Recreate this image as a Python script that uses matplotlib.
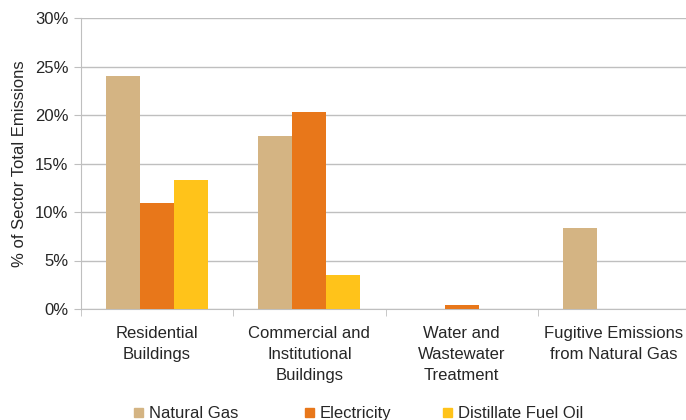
import numpy as np
import matplotlib.pyplot as plt
from matplotlib.patches import Rectangle

plt.rcParams['font.family'] = ['Liberation Sans', 'DejaVu Sans']

# data
CATEGORIES = ["Residential\nBuildings",
              "Commercial and\nInstitutional\nBuildings",
              "Water and\nWastewater\nTreatment",
              "Fugitive Emissions\nfrom Natural Gas"]
NATURAL_GAS = [24.0, 17.8, 0.0, 8.4]
ELECTRICITY = [10.9, 20.3, 0.45, 0.0]
FUEL_OIL = [13.3, 3.5, 0.0, 0.0]
SERIES = ["Natural Gas", "Electricity", "Distillate Fuel Oil"]

C_GAS = "#D4B483"
C_ELEC = "#E8771A"
C_OIL = "#FFC31A"
C_GRID = "#BFBFBF"
C_TEXT = "#262626"

W, H = 686, 420
fig = plt.figure(figsize=(W / 100, H / 100), dpi=100)
# plot area runs a little past the right edge of the picture
ax = fig.add_axes([81 / W, 1 - 309 / H, (690 - 81) / W, (309 - 18) / H])

x = np.arange(len(CATEGORIES))
w = 0.223
ax.bar(x - w, NATURAL_GAS, w, color=C_GAS, zorder=3)
ax.bar(x, ELECTRICITY, w, color=C_ELEC, zorder=3)
ax.bar(x + w, FUEL_OIL, w, color=C_OIL, zorder=3)

ax.set_xlim(-0.5, 3.5)
ax.set_ylim(0, 30)
ax.set_yticks(np.arange(0, 31, 5))
ax.set_yticklabels([f"{v}%" for v in range(0, 31, 5)], fontsize=12, color=C_TEXT)
ax.yaxis.grid(True, color=C_GRID, lw=1, zorder=0)

ax.set_xticks(x)
ax.set_xticklabels(CATEGORIES, fontsize=12, color=C_TEXT, linespacing=1.5)
ax.set_xticks(np.arange(-0.5, 4.0, 1), minor=True)
ax.tick_params(axis="x", which="major", length=0, pad=12)
ax.tick_params(axis="x", which="minor", length=5, color=C_GRID)
ax.tick_params(axis="y", length=5, color=C_GRID, pad=4)

for s in ("top", "right"):
    ax.spines[s].set_visible(False)
for s in ("left", "bottom"):
    ax.spines[s].set_color(C_GRID)

ax.set_ylabel("% of Sector Total Emissions", fontsize=12, color=C_TEXT, labelpad=6)

# Excel-style legend: square + text on a shared baseline
legend_x = [134, 305, 443]
for name, color, lx in zip(SERIES, (C_GAS, C_ELEC, C_OIL), legend_x):
    fig.patches.append(Rectangle((lx / W, 1 - 417 / H), 9 / W, 9 / H,
                                 transform=fig.transFigure, color=color))
    fig.text((lx + 15) / W, 1 - 418 / H, name, fontsize=12, color=C_TEXT,
             va="baseline", ha="left")

fig.savefig("out.png", dpi=100)
